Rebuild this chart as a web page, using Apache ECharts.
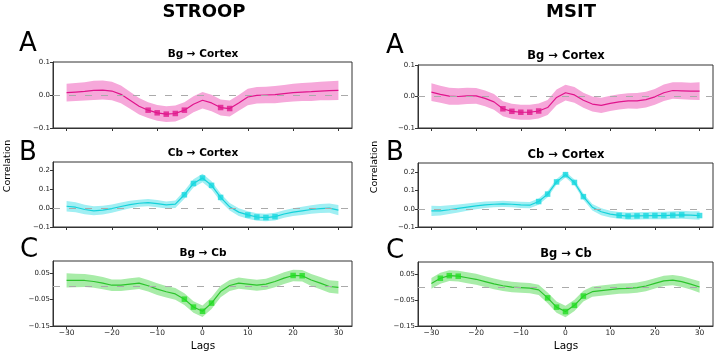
<!DOCTYPE html>
<html lang="en">
<head>
<meta charset="UTF-8">
<title>STROOP / MSIT lag correlations</title>
<style>
  *{padding:0;margin:0;}
  #main{width:720px;height:354px;}
</style>
<script src="https://cdn.jsdelivr.net/npm/echarts@6.0.0/dist/echarts.min.js"></script>
</head>
<body>
<div id="main"></div>
<script>
// lags (x axis) - every 2 samples
var lags = [-30,-28,-26,-24,-22,-20,-18,-16,-14,-12,-10,-8,-6,-4,-2,0,2,4,6,8,10,12,14,16,18,20,22,24,26,28,30];
var xTicks = [-30,-20,-10,0,10,20,30];

// STROOP
var stroopBgCortex    = [0.007,0.009,0.011,0.014,0.015,0.012,0.002,-0.016,-0.034,-0.046,-0.054,-0.058,-0.056,-0.046,-0.028,-0.016,-0.024,-0.038,-0.041,-0.024,-0.006,-0.001,0.000,0.001,0.004,0.007,0.009,0.010,0.012,0.013,0.014];
var stroopBgCortexErr = [0.027,0.027,0.028,0.029,0.029,0.028,0.027,0.026,0.025,0.024,0.024,0.024,0.024,0.024,0.024,0.025,0.025,0.024,0.024,0.024,0.025,0.025,0.025,0.026,0.026,0.027,0.027,0.028,0.028,0.029,0.029];
var stroopBgCortexSig = [-12,-10,-8,-6,-4,4,6];

var stroopCbCortex    = [0.010,0.005,-0.007,-0.014,-0.010,-0.002,0.009,0.019,0.026,0.029,0.024,0.017,0.021,0.071,0.131,0.160,0.121,0.057,0.007,-0.021,-0.036,-0.047,-0.050,-0.045,-0.031,-0.021,-0.014,-0.007,-0.002,0.000,-0.010];
var stroopCbCortexErr = [0.028,0.027,0.025,0.024,0.023,0.022,0.021,0.020,0.019,0.019,0.019,0.019,0.020,0.021,0.022,0.023,0.022,0.021,0.020,0.020,0.020,0.020,0.020,0.020,0.020,0.021,0.022,0.023,0.024,0.025,0.027];
var stroopCbCortexSig = [-4,-2,0,2,4,10,12,14,16];

var stroopBgCb    = [0.023,0.023,0.023,0.019,0.013,0.005,0.005,0.009,0.013,0.003,-0.010,-0.020,-0.028,-0.048,-0.078,-0.094,-0.063,-0.019,0.004,0.013,0.009,0.005,0.009,0.019,0.032,0.042,0.041,0.025,0.013,0.000,-0.003];
var stroopBgCbErr = [0.027,0.026,0.025,0.024,0.023,0.022,0.022,0.022,0.022,0.022,0.022,0.022,0.022,0.022,0.022,0.022,0.022,0.022,0.021,0.021,0.021,0.021,0.021,0.022,0.022,0.022,0.022,0.023,0.023,0.024,0.024];
var stroopBgCbSig = [-4,-2,0,2,20,22];

// MSIT
var msitBgCortex    = [0.014,0.007,0.001,0.000,0.002,0.002,-0.006,-0.017,-0.039,-0.047,-0.050,-0.050,-0.046,-0.035,-0.003,0.012,0.005,-0.012,-0.024,-0.028,-0.022,-0.017,-0.014,-0.014,-0.010,-0.001,0.012,0.019,0.018,0.017,0.017];
var msitBgCortexErr = [0.028,0.027,0.027,0.026,0.026,0.025,0.025,0.025,0.024,0.024,0.024,0.024,0.024,0.024,0.025,0.025,0.025,0.024,0.024,0.024,0.024,0.024,0.024,0.025,0.025,0.025,0.026,0.026,0.027,0.027,0.028];
var msitBgCortexSig = [-14,-12,-10,-8,-6];

var msitCbCortex    = [-0.011,-0.011,-0.005,0.002,0.009,0.016,0.022,0.025,0.027,0.025,0.022,0.020,0.040,0.081,0.148,0.188,0.145,0.067,0.009,-0.016,-0.029,-0.036,-0.040,-0.039,-0.038,-0.037,-0.037,-0.035,-0.033,-0.035,-0.037];
var msitCbCortexErr = [0.028,0.026,0.024,0.022,0.020,0.019,0.018,0.017,0.017,0.017,0.017,0.017,0.017,0.017,0.016,0.016,0.016,0.017,0.018,0.019,0.019,0.019,0.020,0.020,0.020,0.021,0.021,0.021,0.022,0.022,0.023];
var msitCbCortexSig = [-6,-4,-2,0,2,4,12,14,16,18,20,22,24,26,30];

var msitBgCb    = [0.015,0.035,0.045,0.043,0.037,0.031,0.022,0.013,0.006,0.001,-0.001,-0.003,-0.010,-0.041,-0.077,-0.094,-0.070,-0.034,-0.017,-0.013,-0.009,-0.005,-0.004,-0.001,0.005,0.015,0.025,0.028,0.022,0.012,0.001];
var msitBgCbErr = [0.021,0.021,0.021,0.021,0.021,0.021,0.021,0.021,0.020,0.020,0.020,0.020,0.020,0.021,0.022,0.022,0.022,0.021,0.020,0.020,0.020,0.020,0.020,0.020,0.020,0.020,0.020,0.020,0.021,0.021,0.022];
var msitBgCbSig = [-28,-26,-24,-4,-2,0,2,4];

// y ticks per row
var yTicksA = [-0.1, 0.0, 0.1];
var yTicksB = [-0.1, 0.0, 0.1, 0.2];
var yTicksC = [-0.15, -0.05, 0.05];

var FONT = '"DejaVu Sans", sans-serif';
var PINK  = {line: '#e0148c', band: '#f6a8da', mark: '#e0188c'};
var CYAN  = {line: '#14d2da', band: '#a0eff3', mark: '#18d8e0'};
var GREEN = {line: '#2cc42c', band: '#a8eca8', mark: '#22dd22'};

var panels = [
    {grid: {left: 53, top: 62, width: 299, height: 66}, y: [-0.1, 0.1], ticks: yTicksA, dec: 1, v: stroopBgCortex, e: stroopBgCortexErr, sig: stroopBgCortexSig, c: PINK, xl: false},
    {grid: {left: 53, top: 162, width: 299, height: 65}, y: [-0.1, 0.245], ticks: yTicksB, dec: 1, v: stroopCbCortex, e: stroopCbCortexErr, sig: stroopCbCortexSig, c: CYAN, xl: false},
    {grid: {left: 53, top: 261, width: 299, height: 65}, y: [-0.15, 0.097], ticks: yTicksC, dec: 2, v: stroopBgCb, e: stroopBgCbErr, sig: stroopBgCbSig, c: GREEN, xl: true},
    {grid: {left: 418, top: 65, width: 295, height: 63}, y: [-0.1, 0.1], ticks: yTicksA, dec: 1, v: msitBgCortex, e: msitBgCortexErr, sig: msitBgCortexSig, c: PINK, xl: false},
    {grid: {left: 418, top: 163, width: 295, height: 64}, y: [-0.1, 0.252], ticks: yTicksB, dec: 1, v: msitCbCortex, e: msitCbCortexErr, sig: msitCbCortexSig, c: CYAN, xl: false},
    {grid: {left: 418, top: 262, width: 295, height: 64}, y: [-0.15, 0.098], ticks: yTicksC, dec: 2, v: msitBgCb, e: msitBgCbErr, sig: msitBgCbSig, c: GREEN, xl: true}
];

function fmt(dec) {
    return function (v) {
        var s = Math.abs(v).toFixed(dec);
        return (v < -1e-9 ? '\u2212' : '') + s;
    };
}

// shaded band: one polygon through lower then upper edge, placed by the axes
function bandRender(p) {
    return function (params, api) {
        if (params.dataIndex !== 0) return;
        var pts = [];
        for (var k = 0; k < lags.length; k++) pts.push(api.coord([lags[k], p.v[k] - p.e[k]]));
        for (var k2 = lags.length - 1; k2 >= 0; k2--) pts.push(api.coord([lags[k2], p.v[k2] + p.e[k2]]));
        return {type: 'polygon', shape: {points: pts}, style: {fill: p.c.band}, silent: true};
    };
}

var grids = [], xAxes = [], yAxes = [], series = [];
panels.forEach(function (p, i) {
    grids.push(Object.assign({show: true, borderColor: '#333', borderWidth: 1, backgroundColor: '#fff'}, p.grid));
    xAxes.push({
        type: 'value', gridIndex: i, min: -33, max: 33,
        splitLine: {show: false},
        axisLine: {show: true, onZero: false, lineStyle: {color: '#333', width: 1}},
        axisTick: {show: true, length: 3, customValues: xTicks, lineStyle: {color: '#333'}},
        axisLabel: {show: p.xl, customValues: xTicks, fontSize: 7.5, color: '#222', fontFamily: FONT, margin: 3, formatter: fmt(0)}
    });
    yAxes.push({
        type: 'value', gridIndex: i, min: p.y[0], max: p.y[1],
        splitLine: {show: false},
        axisLine: {show: true, onZero: false, lineStyle: {color: '#333', width: 1}},
        axisTick: {show: true, length: 3, customValues: p.ticks, lineStyle: {color: '#333'}},
        axisLabel: {customValues: p.ticks, fontSize: 7, color: '#222', fontFamily: FONT, margin: 3, formatter: fmt(p.dec)}
    });
    var main = p.v.map(function (v, k) { return [lags[k], v]; });
    var band = p.v.map(function (v, k) { return [lags[k], v - p.e[k], v + p.e[k]]; });
    var sig = p.sig.map(function (l) { return [l, p.v[lags.indexOf(l)]]; });
    series.push({
        type: 'custom', xAxisIndex: i, yAxisIndex: i, data: band,
        encode: {x: 0, y: [1, 2]}, renderItem: bandRender(p), silent: true, z: 1
    });
    series.push({
        type: 'line', xAxisIndex: i, yAxisIndex: i, data: main, symbol: 'none',
        lineStyle: {color: p.c.line, width: 1.2}, z: 3,
        markLine: {
            silent: true, symbol: 'none', label: {show: false},
            lineStyle: {color: '#aaaaaa', type: [7, 9], width: 1},
            data: [{yAxis: 0}]
        }
    });
    series.push({
        type: 'scatter', xAxisIndex: i, yAxisIndex: i, data: sig, symbol: 'rect', symbolSize: 5.5,
        itemStyle: {color: p.c.mark}, z: 4
    });
});

function txt(t, x, y, font, rot) {
    return {type: 'text', x: x, y: y, rotation: rot || 0, z: 10,
        style: {text: t, font: font, fill: '#000', textAlign: 'center', textVerticalAlign: 'middle'}};
}

var graphics = [
    txt('STROOP', 204, 12, 'bold 18px ' + FONT),
    txt('MSIT', 571, 12, 'bold 18px ' + FONT),
    txt('A', 28, 44, '26px ' + FONT),
    txt('B', 28, 153, '26px ' + FONT),
    txt('C', 29, 250, '26px ' + FONT),
    txt('A', 395, 46, '26px ' + FONT),
    txt('B', 395, 153, '26px ' + FONT),
    txt('C', 395, 251, '26px ' + FONT),
    txt('Bg \u2192 Cortex', 203, 54, 'bold 10.5px ' + FONT),
    txt('Cb \u2192 Cortex', 203, 153, 'bold 10.5px ' + FONT),
    txt('Bg \u2192 Cb', 203, 253, 'bold 10.5px ' + FONT),
    txt('Bg \u2192 Cortex', 566, 56, 'bold 11.5px ' + FONT),
    txt('Cb \u2192 Cortex', 566, 155, 'bold 11.5px ' + FONT),
    txt('Bg \u2192 Cb', 566, 254, 'bold 11.5px ' + FONT),
    txt('Correlation', 8, 166, '9.5px ' + FONT, Math.PI / 2),
    txt('Correlation', 375, 167, '9.5px ' + FONT, Math.PI / 2),
    txt('Lags', 203, 346, '10.5px ' + FONT),
    txt('Lags', 566, 346, '10.5px ' + FONT)
];

var myChart = echarts.init(document.getElementById('main'));
myChart.setOption({
    animation: false,
    backgroundColor: '#fff',
    grid: grids,
    xAxis: xAxes,
    yAxis: yAxes,
    series: series,
    graphic: graphics
});
</script>
</body>
</html>
